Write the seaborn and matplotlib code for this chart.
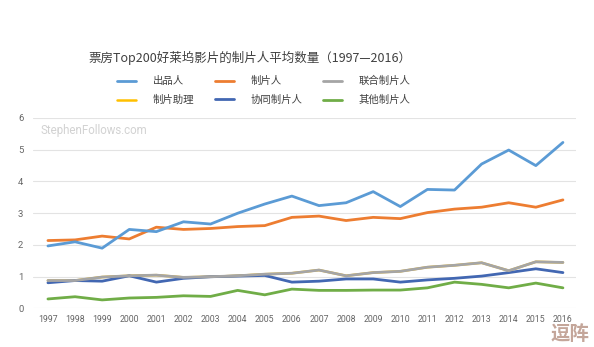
import numpy as np
import pandas as pd
import matplotlib
matplotlib.use("Agg")
import matplotlib.pyplot as plt
import seaborn as sns

years = [str(y) for y in range(1997, 2017)]

exec_producers = [1.97, 2.10, 1.90, 2.49, 2.42, 2.73, 2.66, 3.00, 3.29, 3.54,
                  3.24, 3.33, 3.68, 3.21, 3.75, 3.73, 4.55, 4.99, 4.50, 5.23]
producers = [2.14, 2.16, 2.28, 2.19, 2.56, 2.49, 2.52, 2.58, 2.61, 2.87,
             2.91, 2.77, 2.87, 2.83, 3.02, 3.13, 3.19, 3.33, 3.19, 3.42]
co_producers = [0.88, 0.88, 0.99, 1.03, 1.05, 0.98, 1.00, 1.03, 1.08, 1.11,
                1.21, 1.03, 1.13, 1.17, 1.30, 1.36, 1.44, 1.19, 1.47, 1.45]
assistant_producers = [0.88, 0.88, 0.99, 1.03, 1.05, 0.98, 1.00, 1.03, 1.08, 1.11,
                       1.21, 1.03, 1.13, 1.17, 1.30, 1.36, 1.44, 1.19, 1.47, 1.45]
associate_producers = [0.81, 0.88, 0.86, 1.03, 0.83, 0.95, 1.00, 1.02, 1.04, 0.83,
                       0.86, 0.93, 0.93, 0.83, 0.90, 0.95, 1.02, 1.13, 1.25, 1.13]
other_producers = [0.30, 0.37, 0.27, 0.33, 0.35, 0.40, 0.38, 0.57, 0.43, 0.61,
                   0.57, 0.57, 0.58, 0.58, 0.65, 0.83, 0.76, 0.65, 0.80, 0.65]

series_names = ["出品人", "制片人", "联合制片人", "制片助理", "协同制片人", "其他制片人"]
series_values = [exec_producers, producers, co_producers,
                 assistant_producers, associate_producers, other_producers]
colors = ["#5B9BD5", "#ED7D31", "#A5A5A5", "#FFC000", "#4267B2", "#70AD47"]

title_text = "票房Top200好莱坞影片的制片人平均数量（1997—2016）"
y_ticks = [0, 1, 2, 3, 4, 5, 6]

rows = []
for name, vals in zip(series_names, series_values):
    for i, (yr, v) in enumerate(zip(years, vals)):
        rows.append({"idx": i, "year": yr, "series": name, "value": v})
df = pd.DataFrame(rows)

sns.set_theme(style="white")
plt.rcParams["font.family"] = ["Noto Sans CJK SC", "DejaVu Sans"]

fig = plt.figure(figsize=(5.94, 3.47), dpi=100)
ax = fig.add_axes([0.0556, 0.111, 0.914, 0.549])

# the assistant-producer line runs under the co-producer line, so draw it first
draw_order = ["制片助理", "其他制片人", "协同制片人", "联合制片人", "制片人", "出品人"]
palette = dict(zip(series_names, colors))
for name in draw_order:
    sub = df[df["series"] == name]
    sns.lineplot(data=sub, x="idx", y="value", color=palette[name],
                 lw=1.8 if name == "制片助理" else 2.0,
                 ax=ax, label=name, legend=False, solid_capstyle="round")

ax.set_xlim(-0.55, 19.48)
ax.set_ylim(0, 6)
ax.set_yticks(y_ticks)
ax.set_xticks(range(len(years)))
ax.set_xticklabels(years)
ax.set_xlabel("")
ax.set_ylabel("")
ax.tick_params(axis="x", labelsize=6.3, colors="#666666", pad=5, length=0)
ax.tick_params(axis="y", labelsize=6.8, colors="#666666", pad=7, length=0)
for lab in ax.get_xticklabels() + ax.get_yticklabels():
    lab.set_family(["Roboto", "DejaVu Sans"])
ax.grid(axis="y", color="#E3E3E3", lw=0.8)
ax.grid(axis="x", visible=False)
for s in ax.spines.values():
    s.set_visible(False)

ax.text(0.013, 0.935, "StephenFollows.com", transform=ax.transAxes,
        fontsize=8.3, color="#D2D2D2", family=["Roboto", "DejaVu Sans"],
        va="center", ha="left")

fig.text(0.42, 0.833, title_text, ha="center", va="center",
         fontsize=9.0, color="#404040")

handles = {h.get_label(): h for h in ax.get_lines() if h.get_label() in series_names}
legend_order = ["出品人", "制片助理", "制片人", "协同制片人", "联合制片人", "其他制片人"]
leg = fig.legend([handles[n] for n in legend_order], legend_order,
                 ncol=3, loc="center", bbox_to_anchor=(0.444, 0.739),
                 frameon=False, fontsize=7.5, handlelength=1.8,
                 handletextpad=1.6, columnspacing=2.0, labelspacing=0.85,
                 borderpad=0.0)
for t in leg.get_texts():
    t.set_color("#404040")

fig.text(0.993, 0.035, "逗阵", ha="right", va="center", fontsize=14,
         fontweight="bold", color="#B08878", alpha=0.75)

fig.savefig("out.png", dpi=100, facecolor="white")
